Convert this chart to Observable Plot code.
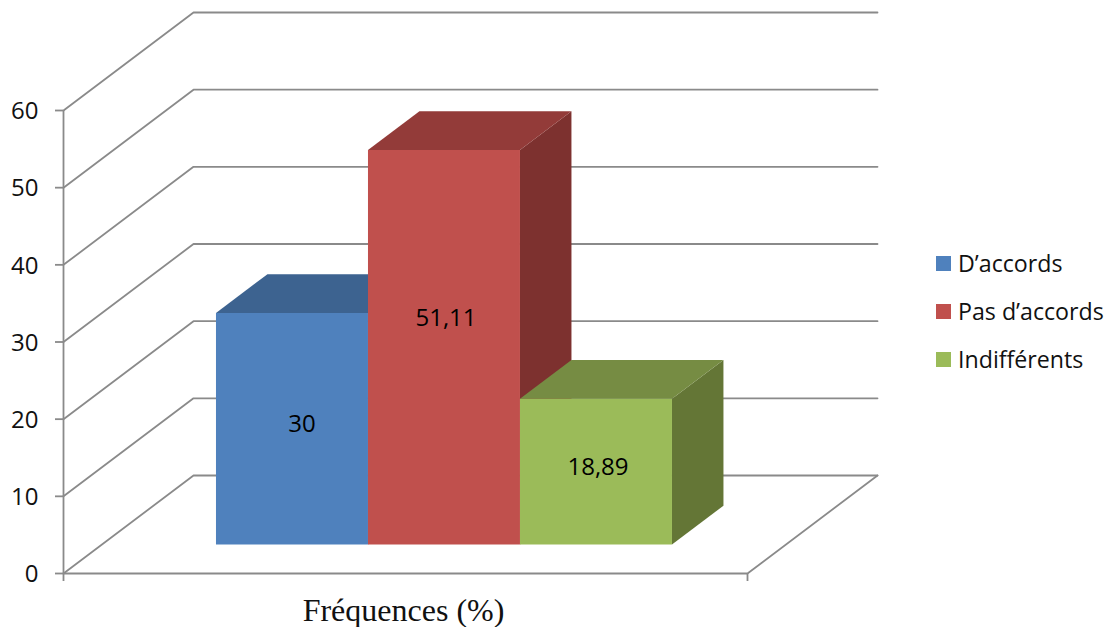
<!DOCTYPE html>
<html lang="fr">
<head>
<meta charset="utf-8">
<title>Fréquences (%)</title>
<script src="https://cdn.jsdelivr.net/npm/d3@7"></script>
<script src="https://cdn.jsdelivr.net/npm/@observablehq/plot@0.6"></script>
<style>
  html, body { margin: 0; padding: 0; background: #fff; }
  #chart { position: relative; width: 1110px; height: 627px; overflow: hidden; }
  #legend { position: absolute; left: 936px; top: 240px; font-family: "Open Sans", sans-serif; font-size: 23.2px; color: #111; }
  #legend div { position: absolute; left: 0; white-space: nowrap; display: flex; align-items: center; height: 24px; }
  #legend i { display: block; width: 15px; height: 15px; margin-right: 7px; }
</style>
</head>
<body>
<div id="chart"></div>
<script>
// Survey answers
const categories = ["D’accords", "Pas d’accords", "Indifférents"];
const frequencies = [30, 51.11, 18.89];
const yTicks = [0, 10, 20, 30, 40, 50, 60];
const xTitle = "Fréquences (%)";

// Face colours per series
const frontColors = ["#4f81bd", "#c0504d", "#9bbb59"];
const topColors = ["#3d6390", "#933b39", "#768c43"];
const sideColors = ["#355377", "#7d312f", "#647636"];

// Oblique projection: one unit of depth moves a point along x and y (in scale units)
const depthX = 130 / 684;
const depthY = 98 / 7.717;
const project = (x, v, d) => ({x: x + d * depthX, y: v + d * depthY});

// Bar layout: a single cluster with a 150% gap, boxes in the middle of the floor's depth
const barWidth = 1 / 4.5;
const barStart = 0.75 * barWidth;
const depthFront = 0.296;
const depthBack = 0.692;

// Nudges of the value labels, in pixels
const labelDx = [10, 2, 2];
const labelDy = [-4, -29, -4];

const polygon = (id, fill, points) =>
  [...points, points[0]].map((p) => ({...p, id, fill}));

const faces = frequencies.flatMap((v, i) => {
  const x0 = barStart + i * barWidth;
  const x1 = x0 + barWidth;
  const f = depthFront;
  const b = depthBack;
  return [
    ...polygon(`side${i}`, sideColors[i], [project(x1, 0, f), project(x1, 0, b), project(x1, v, b), project(x1, v, f)]),
    ...polygon(`top${i}`, topColors[i], [project(x0, v, f), project(x1, v, f), project(x1, v, b), project(x0, v, b)]),
    ...polygon(`front${i}`, frontColors[i], [project(x0, 0, f), project(x1, 0, f), project(x1, v, f), project(x0, v, f)])
  ];
});

// Gridlines run from the left axis, back along the side wall, then across the back wall
const wallLines = yTicks.flatMap((v) =>
  [project(0, v, 0), project(0, v, 1), project(1, v, 1)].map((p) => ({...p, v}))
);
const floorEdge = [project(0, 0, 0), project(1, 0, 0), project(1, 0, 1)];
const gridColor = "#8a8a8a";
const sansFont = "'Open Sans', sans-serif";

const labels = frequencies.map((v, i) => {
  const c = project(barStart + (i + 0.5) * barWidth, v / 2, depthFront);
  return {...c, text: String(v).replace(".", ","), i};
});

const chart = Plot.plot({
  width: 1110,
  height: 627,
  marginTop: 0,
  marginRight: 363,
  marginBottom: 54,
  marginLeft: 63,
  style: {background: "#fff", overflow: "visible"},
  x: {domain: [0, 1], range: [63, 747]},
  y: {domain: [0, 60], range: [573, 110]},
  marks: [
    Plot.line(wallLines, {x: "x", y: "y", z: "v", stroke: gridColor, strokeWidth: 1.8, strokeLinejoin: "miter"}),
    Plot.line(floorEdge, {x: "x", y: "y", stroke: gridColor, strokeWidth: 1.8}),
    Plot.ruleX([0], {y1: 0, y2: 60, stroke: gridColor, strokeWidth: 1.8}),
    // Tick marks and tick labels are separate so the labels can sit a pixel lower
    Plot.axisY({ticks: yTicks, label: null, tickFormat: () => "", tickSize: 8, stroke: gridColor, strokeWidth: 1.8}),
    Plot.axisY({
      ticks: yTicks,
      label: null,
      tickSize: 0,
      tickPadding: 25,
      dy: 1,
      fontSize: 24,
      fontFamily: sansFont,
      color: "#111"
    }),
    Plot.axisX({
      ticks: [0, 1],
      tickFormat: () => "",
      tickSize: 8,
      stroke: gridColor,
      strokeWidth: 1.8,
      label: null
    }),
    Plot.text([xTitle], {
      x: () => 0.5,
      frameAnchor: "bottom",
      lineAnchor: "middle",
      dx: -2,
      dy: 37,
      fontSize: 32,
      fontFamily: "'Liberation Serif', serif",
      fill: "#111"
    }),
    Plot.line(faces, {x: "x", y: "y", z: "id", fill: "fill", stroke: null, strokeWidth: 0}),
    ...labels.map((d) =>
      Plot.text([d], {
        x: "x",
        y: "y",
        text: "text",
        dx: labelDx[d.i],
        dy: labelDy[d.i],
        fontSize: 24,
        fontFamily: sansFont,
        fill: "#000"
      })
    )
  ]
});

const host = document.getElementById("chart");
host.appendChild(chart);

// Legend beside the plot
const legend = document.createElement("div");
legend.id = "legend";
categories.forEach((name, i) => {
  const row = document.createElement("div");
  row.style.top = `${11 + i * 48}px`;
  const swatch = document.createElement("i");
  swatch.style.background = frontColors[i];
  row.append(swatch, name);
  legend.append(row);
});
host.appendChild(legend);
</script>
</body>
</html>
